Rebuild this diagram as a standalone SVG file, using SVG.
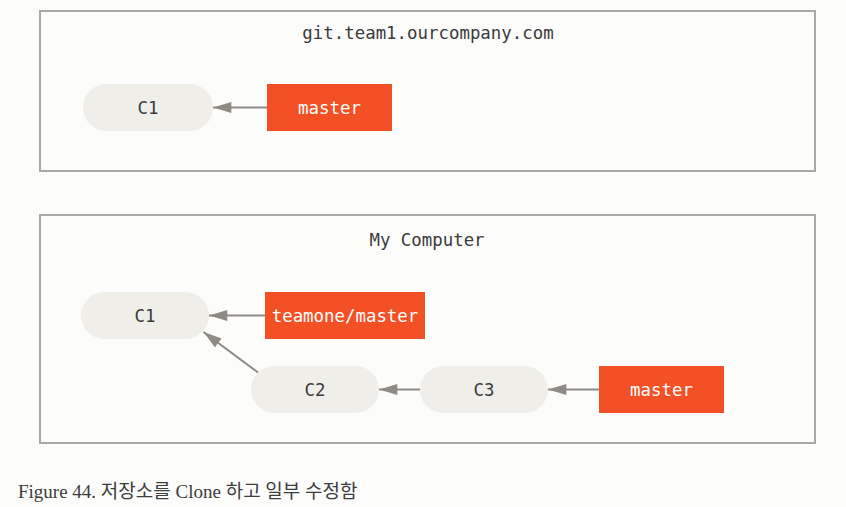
<svg xmlns="http://www.w3.org/2000/svg" width="846" height="507" viewBox="0 0 846 507">
<defs>
<marker id="ah" viewBox="0 0 20 12" refX="20" refY="6" markerWidth="19" markerHeight="11" markerUnits="userSpaceOnUse" orient="auto">
<path d="M0,0 L20,6 L0,12 Z" fill="#8e8b85"/>
</marker>
<style>
.box{fill:#fcfcfa;stroke:#a9a8a5;stroke-width:2}
.commit{fill:#efeee9}
.ref{fill:#f35026}
.t{font-family:"DejaVu Sans Mono","Liberation Mono",monospace;font-size:17.4px;text-anchor:middle;dominant-baseline:central}
.dark{fill:#3a3a3a}
.light{fill:#ffffff}
.edge{stroke:#8e8b85;stroke-width:2;fill:none;marker-end:url(#ah)}
</style>
</defs>
<rect width="846" height="507" fill="#fcfcfb"/>
<g id="server">
<rect class="box" x="40" y="11" width="775" height="160"/>
<text class="t dark" x="428" y="33">git.team1.ourcompany.com</text>
</g>
<g id="local">
<rect class="box" x="40" y="215" width="775" height="228"/>
<text class="t dark" x="427" y="240">My Computer</text>
</g>
<g id="c1-remote">
<rect class="commit" x="83" y="84" width="130" height="47" rx="23.5"/>
<text class="t dark" x="148" y="107.5">C1</text>
</g>
<g id="master-remote">
<rect class="ref" x="267" y="84" width="125" height="47"/>
<text class="t light" x="329.5" y="107.5">master</text>
</g>
<g id="c1-local">
<rect class="commit" x="81" y="292" width="128" height="47" rx="23.5"/>
<text class="t dark" x="145" y="315.5">C1</text>
</g>
<g id="teamone-master">
<rect class="ref" x="265" y="292" width="160" height="47"/>
<text class="t light" x="345" y="315.5">teamone/master</text>
</g>
<g id="c2">
<rect class="commit" x="251" y="366" width="128" height="47" rx="23.5"/>
<text class="t dark" x="315" y="389.5">C2</text>
</g>
<g id="c3">
<rect class="commit" x="420" y="366" width="128" height="47" rx="23.5"/>
<text class="t dark" x="484" y="389.5">C3</text>
</g>
<g id="master-local">
<rect class="ref" x="599" y="366" width="125" height="47"/>
<text class="t light" x="661.5" y="389.5">master</text>
</g>
<g id="connectors">
<line class="edge" x1="267" y1="107.5" x2="213" y2="107.5"/>
<line class="edge" x1="265" y1="315.5" x2="209" y2="315.5"/>
<line class="edge" x1="258" y1="372.5" x2="203.5" y2="332"/>
<line class="edge" x1="420" y1="389.5" x2="379" y2="389.5"/>
<line class="edge" x1="599" y1="389.5" x2="548" y2="389.5"/>
</g>
<text x="18" y="498" font-family="'Liberation Serif','Noto Sans CJK KR',serif" font-size="19" fill="#3d3d3d">Figure 44. 저장소를 Clone 하고 일부 수정함</text>
</svg>
